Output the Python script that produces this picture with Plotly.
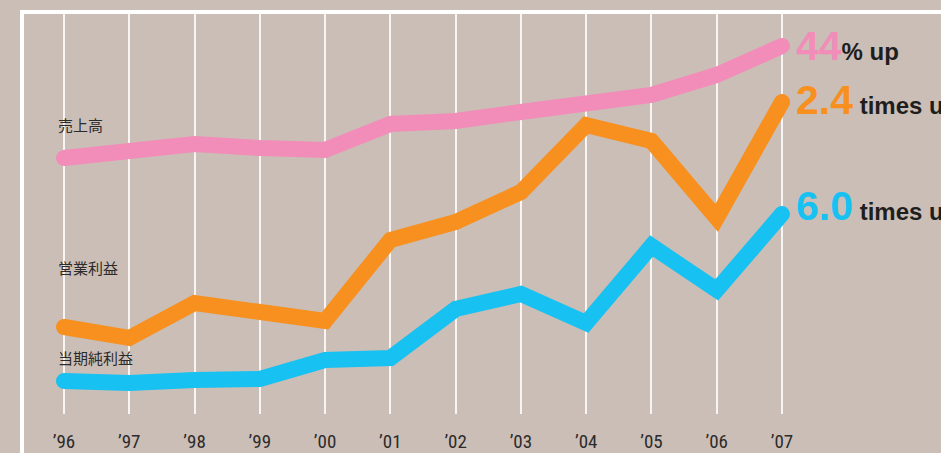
import plotly.graph_objects as go

years = [1996, 1997, 1998, 1999, 2000, 2001, 2002, 2003, 2004, 2005, 2006, 2007]
tick_labels = ["\u201996", "\u201997", "\u201998", "\u201999", "\u201900", "\u201901",
               "\u201902", "\u201903", "\u201904", "\u201905", "\u201906", "\u201907"]

# index values (relative scale, as plotted)
sales = [256, 264, 270, 266, 264, 290, 293, 302, 310, 319, 339, 368]
operating_income = [87, 76, 111, 101, 93, 174, 192, 222, 289, 273, 196, 312]
net_income = [33, 31, 34, 35, 54, 56, 105, 120, 91, 168, 124, 200]

series_names = ["売上高", "営業利益", "当期純利益"]
growth_big = ["44", "2.4", "6.0"]
growth_small = ["% up", " times up", " times up"]

PINK = "#f28cb9"
ORANGE = "#f7901e"
BLUE = "#17c1f1"
BG = "#cbbeb6"
TEXT = "#2b2b2b"

fig = go.Figure()
for vals, col in [(sales, PINK), (operating_income, ORANGE), (net_income, BLUE)]:
    fig.add_trace(go.Scatter(
        x=years, y=vals, mode="lines",
        line=dict(color=col, width=16),
        hoverinfo="skip", showlegend=False,
    ))

spacing = 65.27
x0 = years[0] - 64 / spacing
x1 = x0 + 941 / spacing

fig.update_layout(
    width=941, height=453,
    margin=dict(l=0, r=0, t=14, b=39),
    paper_bgcolor=BG, plot_bgcolor=BG,
    xaxis=dict(range=[x0, x1], tickvals=years, ticktext=tick_labels,
               showgrid=True, gridcolor="rgba(255,255,255,0.85)", gridwidth=1.5,
               zeroline=False, showline=False, ticks="outside", ticklen=10,
               tickcolor="rgba(0,0,0,0)",
               tickfont=dict(family="Liberation Sans Narrow, Roboto Condensed, Roboto", size=19, color=TEXT)),
    yaxis=dict(range=[0, 400], visible=False),
)

# white frame lines (top and left)
fig.add_shape(type="line", xref="paper", yref="paper", x0=20 / 941, x1=1.01,
              y0=(414 - 12) / 400, y1=(414 - 12) / 400, line=dict(color="white", width=4))
fig.add_shape(type="line", xref="paper", yref="paper", x0=22 / 941, x1=22 / 941,
              y0=(414 - 10) / 400, y1=-0.12, line=dict(color="white", width=4))

# left series labels
for name, ypix in zip(series_names, [125, 267, 357]):
    fig.add_annotation(text=name, xref="paper", yref="paper", x=56 / 941, y=(414 - ypix) / 400,
                       xanchor="left", yanchor="middle", showarrow=False,
                       font=dict(family="Noto Sans CJK JP", size=15, color=TEXT))

# right growth labels
for big, small, col, ypix in zip(growth_big, growth_small, [PINK, ORANGE, BLUE], [46, 100, 206]):
    txt = (f"<b><span style='font-size:41px;color:{col}'>{big}</span>"
           f"<span style='font-size:24px;color:#1e1e1e'>{small}</span></b>")
    fig.add_annotation(text=txt, xref="paper", yref="paper", x=794 / 941, y=(414 - ypix) / 400,
                       xanchor="left", yanchor="middle", showarrow=False,
                       font=dict(family="Liberation Sans, Arial", size=24, color="#1e1e1e"))

post = ("document.body.style.margin='0';"
        "document.querySelectorAll('.js-line').forEach(function(p){"
        "p.style.strokeLinecap='round';p.style.strokeLinejoin='miter';});")

fig.write_html("out.html", post_script=post, config={"displayModeBar": False})
